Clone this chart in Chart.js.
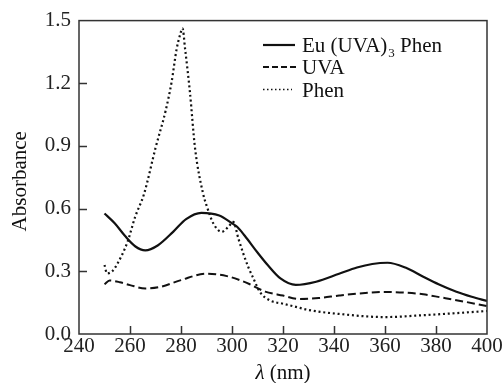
<!DOCTYPE html>
<html>
<head>
<meta charset="utf-8">
<script src="https://cdn.jsdelivr.net/npm/chart.js@4.4.1/dist/chart.umd.min.js"></script>
<style>
  body { margin: 0; background: #fff; }
  #wrap { width: 504px; height: 383px; position: relative; }
</style>
</head>
<body>
<div id="wrap"><canvas id="chart1"></canvas></div>
<script>
// datos
const euWave = [250, 254, 258, 262, 266, 271, 277, 282, 288, 295, 300, 302, 305, 310, 314, 319, 325, 333, 342, 349, 355, 361, 368, 375, 381, 388, 394, 400];
const euAbs  = [0.577, 0.53, 0.47, 0.42, 0.40, 0.425, 0.49, 0.55, 0.58, 0.567, 0.53, 0.513, 0.47, 0.39, 0.33, 0.266, 0.235, 0.25, 0.288, 0.318, 0.335, 0.341, 0.318, 0.274, 0.238, 0.202, 0.178, 0.158];

const uvaWave = [250, 252, 256, 260, 266, 272, 280, 290, 298, 303, 307, 313, 320, 326, 334, 342, 350, 360, 368, 375, 382, 388, 400];
const uvaAbs  = [0.238, 0.256, 0.248, 0.234, 0.218, 0.226, 0.258, 0.289, 0.277, 0.258, 0.238, 0.203, 0.184, 0.168, 0.172, 0.184, 0.194, 0.201, 0.198, 0.19, 0.175, 0.162, 0.134];

const phenWave = [250, 251, 253, 255, 259, 262, 265.5, 270, 274, 276.3, 278.3, 279.6, 280.6, 281.6, 283.5, 285.5, 288.7, 290, 292.7, 296, 298.6, 300.5, 302.5, 304.4, 306.4, 308.4, 311, 315, 320, 325, 330, 342, 360, 375, 388, 400];
const phenAbs  = [0.33, 0.29, 0.3, 0.335, 0.44, 0.56, 0.67, 0.89, 1.07, 1.205, 1.365, 1.43, 1.463, 1.365, 1.158, 0.89, 0.67, 0.616, 0.529, 0.489, 0.513, 0.537, 0.457, 0.386, 0.32, 0.266, 0.2, 0.16, 0.145, 0.13, 0.115, 0.096, 0.081, 0.09, 0.1, 0.11];

const xTicks = [240, 260, 280, 300, 320, 340, 360, 380, 400];
const yTicks = [0.0, 0.3, 0.6, 0.9, 1.2, 1.5];

const seriesNames = ['Eu (UVA)3 Phen', 'UVA', 'Phen'];

const ink = '#111';
const serif = '"Liberation Serif", "Times New Roman", serif';

function toPoints(xs, ys) {
  return xs.map((x, i) => ({ x: x, y: ys[i] }));
}

// marco, ticks hacia dentro, leyenda y titulos
const decorPlugin = {
  id: 'decor',
  afterDraw(chart) {
    const ctx = chart.ctx;
    const a = chart.chartArea;
    const xs = chart.scales.x;
    const ys = chart.scales.y;
    ctx.save();
    ctx.strokeStyle = '#333';
    ctx.lineWidth = 1.5;
    ctx.setLineDash([]);
    ctx.strokeRect(a.left, a.top, a.right - a.left, a.bottom - a.top);

    ctx.beginPath();
    xTicks.slice(1, -1).forEach(v => {
      const px = Math.round(xs.getPixelForValue(v)) + 0.5;
      ctx.moveTo(px, a.bottom);
      ctx.lineTo(px, a.bottom - 8);
    });
    yTicks.slice(1, -1).forEach(v => {
      const py = Math.round(ys.getPixelForValue(v)) + 0.5;
      ctx.moveTo(a.left, py);
      ctx.lineTo(a.left + 8, py);
    });
    ctx.stroke();

    // leyenda
    const sets = chart.data.datasets;
    const rows = [52, 74, 96.5];
    const lx0 = 263, textX = 302;
    ctx.fillStyle = ink;
    ctx.textBaseline = 'alphabetic';
    ctx.textAlign = 'left';
    sets.forEach((ds, i) => {
      const ly = rows[i] - 7;
      ctx.beginPath();
      ctx.strokeStyle = ds.borderColor;
      ctx.lineWidth = i === 2 ? 1.3 : ds.borderWidth;
      ctx.setLineDash(i === 1 ? [6, 3] : (i === 2 ? [1.5, 2.5] : []));
      ctx.moveTo(lx0, ly);
      ctx.lineTo(i === 1 ? 296 : (i === 2 ? 292 : 295), ly);
      ctx.stroke();
    });
    ctx.setLineDash([]);
    ctx.font = '21px ' + serif;
    let tx = textX;
    ctx.fillText('Eu (UVA)', tx, rows[0]);
    tx += ctx.measureText('Eu (UVA)').width + 1;
    ctx.font = '13px ' + serif;
    ctx.fillText('3', tx, rows[0] + 5);
    tx += ctx.measureText('3').width;
    ctx.font = '21px ' + serif;
    ctx.fillText(' Phen', tx, rows[0]);
    ctx.fillText(seriesNames[1], textX, rows[1]);
    ctx.fillText(seriesNames[2], textX, rows[2]);

    // titulos de ejes
    ctx.save();
    ctx.translate(20, (a.top + a.bottom) / 2 + 4);
    ctx.rotate(-Math.PI / 2);
    ctx.textAlign = 'center';
    ctx.textBaseline = 'middle';
    ctx.font = '21px ' + serif;
    ctx.fillText('Absorbance', 0, 0);
    ctx.restore();

    const cx = (a.left + a.right) / 2;
    ctx.font = 'italic 21px ' + serif;
    const w1 = ctx.measureText('\u03bb').width;
    ctx.font = '21px ' + serif;
    const w2 = ctx.measureText(' (nm)').width;
    let sx = cx - (w1 + w2) / 2;
    ctx.font = 'italic 21px ' + serif;
    ctx.fillText('\u03bb', sx, 379);
    ctx.font = '21px ' + serif;
    ctx.fillText(' (nm)', sx + w1, 379);
    ctx.restore();
  }
};

const lineBase = {
  borderColor: ink,
  pointRadius: 0,
  fill: false,
  cubicInterpolationMode: 'monotone'
};

new Chart(document.getElementById('chart1'), {
  type: 'line',
  data: {
    datasets: [
      Object.assign({ label: seriesNames[0], data: toPoints(euWave, euAbs), borderWidth: 2.2 }, lineBase),
      Object.assign({ label: seriesNames[1], data: toPoints(uvaWave, uvaAbs), borderWidth: 2, borderDash: [8, 4] }, lineBase),
      Object.assign({ label: seriesNames[2], data: toPoints(phenWave, phenAbs), borderWidth: 2.2, borderDash: [2, 2.8] }, lineBase)
    ]
  },
  options: {
    responsive: true,
    maintainAspectRatio: false,
    animation: false,
    layout: { padding: { left: 0, right: 17, top: 20, bottom: 0 } },
    plugins: {
      legend: { display: false },
      tooltip: { enabled: false }
    },
    scales: {
      x: {
        type: 'linear',
        min: 240,
        max: 400,
        afterFit: s => { s.height = 49; },
        afterBuildTicks: s => { s.ticks = xTicks.map(v => ({ value: v })); },
        grid: { display: false, drawTicks: false },
        border: { display: false },
        ticks: {
          color: '#222',
          padding: 0,
          maxRotation: 0,
          autoSkip: false,
          font: { family: serif, size: 21 }
        }
      },
      y: {
        min: 0,
        max: 1.5,
        afterFit: s => { s.width = 79; },
        afterBuildTicks: s => { s.ticks = yTicks.map(v => ({ value: v })); },
        grid: { display: false, drawTicks: false },
        border: { display: false },
        ticks: {
          color: '#222',
          padding: 8,
          font: { family: serif, size: 21 },
          callback: v => Number(v).toFixed(1)
        }
      }
    }
  },
  plugins: [decorPlugin]
});
</script>
</body>
</html>
